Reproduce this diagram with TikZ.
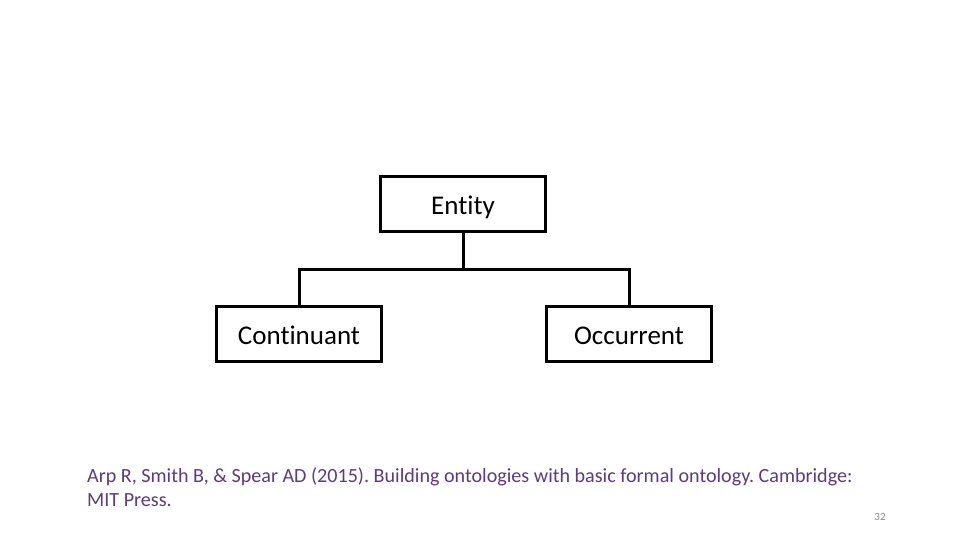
\documentclass[tikz,border=0pt]{standalone}
\usepackage{fontspec}
\setmainfont{Carlito}[RawFeature={-liga;-dlig;-clig}]
\frenchspacing
\definecolor{citepurple}{RGB}{94,58,130}
\definecolor{pagegrey}{RGB}{137,137,137}
\begin{document}
\begin{tikzpicture}[x=1pt,y=-1pt,
  box/.style={draw=black,line width=3pt,minimum width=165pt,minimum height=55pt,inner sep=0pt,
    text height=20pt,text depth=0pt,font=\fontsize{27}{32}\selectfont},
  link/.style={draw=black,line width=3pt,line join=miter}]
\useasboundingbox[fill=white] (0,0) rectangle (960,540);
\node[box] (E) at (463,204) {Entity};
\node[box] (C) at (299,334) {Continuant};
\node[box] (O) at (629,334) {Occurrent};
\draw[link] (E.south) -- ++(0,36.5) coordinate (m);
\draw[link] (C.north) |- (m) -| (O.north);
\node[anchor=north west,inner sep=0pt,align=left,text=citepurple,
  font=\fontsize{20.1}{23.5}\selectfont] (cite) at (87,468)
  {Arp R, Smith B, \& Spear AD (2015). Building ontologies with basic formal ontology. Cambridge:\\MIT Press.};
\node[anchor=base,inner sep=0pt,text=pagegrey,font=\fontsize{11}{13}\selectfont] (pg) at (880,520) {32};
\end{tikzpicture}
\end{document}
